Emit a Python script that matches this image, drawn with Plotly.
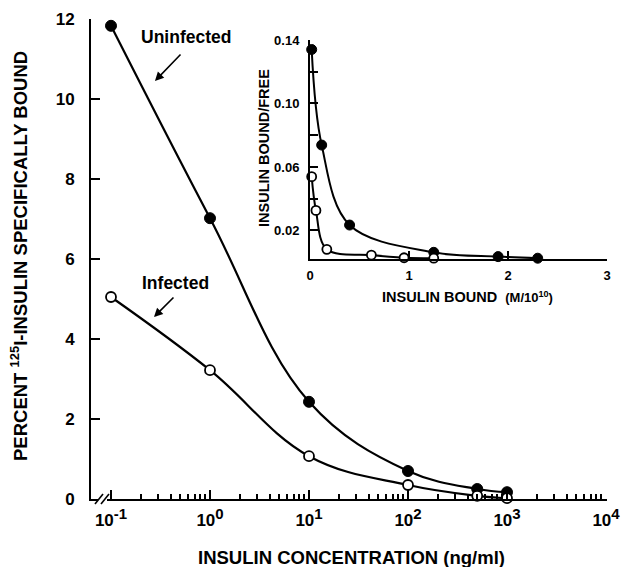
import plotly.graph_objects as go

# ---------------- data ----------------
conc = [0.1, 1, 10, 100, 500, 1000]                 # ng/ml
uninfected_pct = [11.83, 7.02, 2.43, 0.70, 0.25, 0.17]
infected_pct = [5.05, 3.22, 1.07, 0.35, 0.08, 0.02]

# Scatchard inset
unf_bound = [0.017, 0.118, 0.40, 1.25, 1.90, 2.30]
unf_bf = [0.134, 0.0738, 0.0234, 0.0062, 0.0035, 0.0025]
inf_bound = [0.017, 0.06, 0.17, 0.62, 0.95, 1.25]
inf_bf = [0.0539, 0.0326, 0.0081, 0.0045, 0.0028, 0.0025]

x_tickvals = [0.1, 1, 10, 100, 1000, 10000]
x_exponents = ["-1", "0", "1", "2", "3", "4"]
y_tickvals = [0, 2, 4, 6, 8, 10, 12]
inset_x_ticks = [0, 1, 2, 3]
inset_y_labels = [0.02, 0.06, 0.10, 0.14]
inset_y_labeltext = ["0.02", "0.06", "0.10", "0.14"]

FONT = "Liberation Sans, Arial, sans-serif"
BLK = "black"

x_ticktext = ["10<sup><span style='font-size:15px'>%s</span></sup>" % e for e in x_exponents]


def f(size):
    return dict(size=size, family=FONT, color=BLK, weight="bold")


minor_vals = [m * 10 ** e for e in range(-1, 4) for m in range(2, 10)]

fig = go.Figure()

line_style = dict(color=BLK, width=2.2, shape="spline", smoothing=1.1)
fig.add_trace(go.Scatter(x=conc, y=uninfected_pct, mode="lines+markers",
                         line=line_style,
                         marker=dict(size=11, color=BLK, line=dict(color=BLK, width=1)),
                         cliponaxis=False, showlegend=False))
fig.add_trace(go.Scatter(x=conc, y=infected_pct, mode="lines+markers",
                         line=line_style,
                         marker=dict(size=10, color="white", line=dict(color=BLK, width=1.8)),
                         cliponaxis=False, showlegend=False))

# inset
fig.add_trace(go.Scatter(x=unf_bound, y=unf_bf, xaxis="x2", yaxis="y2",
                         mode="lines+markers",
                         line=dict(color=BLK, width=2, shape="spline", smoothing=1.0),
                         marker=dict(size=10, color=BLK, line=dict(color=BLK, width=1)),
                         cliponaxis=False, showlegend=False))
fig.add_trace(go.Scatter(x=inf_bound, y=inf_bf, xaxis="x2", yaxis="y2",
                         mode="lines+markers",
                         line=dict(color=BLK, width=2, shape="spline", smoothing=1.0),
                         marker=dict(size=9, color="white", line=dict(color=BLK, width=1.8)),
                         cliponaxis=False, showlegend=False))

# The page body has an 8px margin, so the figure is drawn 8px right/down.
OFF = 8
W, H = 617, 559
L, R, T, B = 83, 18, 11, 68
pw, ph = W - L - R, H - T - B


def px(xp):
    """page x pixel -> paper fraction"""
    return (xp - OFF - L) / pw


def py(yp):
    """page y pixel -> paper fraction"""
    return (H - B - (yp - OFF)) / ph


fig.update_layout(
    width=W, height=H,
    margin=dict(l=L, r=R, t=T, b=B, autoexpand=False),
    paper_bgcolor="white", plot_bgcolor="white",
    font=dict(family=FONT, color=BLK),
    xaxis=dict(type="log", range=[-1.202, 4.01], domain=[0, 1], automargin=False,
               showline=True, linecolor=BLK, linewidth=2,
               showgrid=False, zeroline=False,
               tickmode="array", tickvals=x_tickvals, ticktext=x_ticktext,
               ticks="inside", ticklen=9, tickwidth=1.5, tickcolor=BLK,
               tickfont=f(17), ticklabelstandoff=5,
               minor=dict(ticks="inside", ticklen=5, tickwidth=1.5, tickcolor=BLK,
                          tickmode="array", tickvals=minor_vals, showgrid=False)),
    yaxis=dict(range=[0, 12], domain=[0, 1], automargin=False,
               showline=True, linecolor=BLK, linewidth=2,
               showgrid=False, zeroline=False,
               tickmode="array", tickvals=y_tickvals,
               ticks="inside", ticklen=9, tickwidth=1.5, tickcolor=BLK,
               tickfont=f(17), ticklabelstandoff=11),
    xaxis2=dict(range=[0, 3], domain=[px(310), 1.0], anchor="y2", automargin=False,
                showline=True, linecolor=BLK, linewidth=2,
                showgrid=False, zeroline=False,
                tickmode="array", tickvals=inset_x_ticks,
                ticks="inside", ticklen=8, tickwidth=1.5, tickcolor=BLK,
                tickfont=f(13), ticklabelstandoff=3),
    yaxis2=dict(range=[0.002, 0.14], domain=[py(259), py(40)], anchor="x2", automargin=False,
                showline=True, linecolor=BLK, linewidth=2,
                showgrid=False, zeroline=False,
                tickmode="array", tickvals=inset_y_labels, ticktext=inset_y_labeltext,
                ticks="inside", ticklen=8, tickwidth=1.5, tickcolor=BLK,
                tickfont=f(13), ticklabelstandoff=6,
                minor=dict(ticks="inside", ticklen=8, tickwidth=1.5, tickcolor=BLK,
                           tickmode="array", tickvals=[0.04, 0.08, 0.12], showgrid=False)),
)

C = dict(xref="paper", yref="paper", xanchor="center", yanchor="middle", showarrow=False)
annotations = [
    # main axis titles
    dict(text="PERCENT <sup>125</sup>I-INSULIN SPECIFICALLY BOUND",
         x=px(19), y=py(256), textangle=-90, font=f(18.5), **C),
    dict(text="INSULIN CONCENTRATION (ng/ml)",
         x=px(351), y=py(557), font=f(18.5), **C),
    # inset titles
    dict(text="INSULIN BOUND/FREE",
         x=px(264), y=py(148), textangle=-90, font=f(14.5), **C),
    dict(text="INSULIN BOUND  <span style='font-size:13px'>(M/10<sup>10</sup>)</span>",
         x=px(467), y=py(297), font=f(14.5), **C),
    # series labels
    dict(text="Uninfected", x=px(186), y=py(37), font=f(17.5), **C),
    dict(text="Infected", x=px(175), y=py(283), font=f(17.5), **C),
    # arrows
    dict(text="", x=-0.556, y=10.45, xref="x", yref="y", ax=27, ay=-28,
         showarrow=True, arrowhead=2, arrowsize=1.1, arrowwidth=1.6, arrowcolor=BLK),
    dict(text="", x=-0.566, y=4.55, xref="x", yref="y", ax=21, ay=-21,
         showarrow=True, arrowhead=2, arrowsize=1.1, arrowwidth=1.6, arrowcolor=BLK),
]
fig.update_layout(annotations=annotations)

# axis break marks on main x axis
shapes = [
    dict(type="line", xref="paper", yref="paper", x0=px(98), x1=px(107),
         y0=py(499), y1=py(499), line=dict(color="white", width=4)),
    dict(type="line", xref="paper", yref="paper", x0=px(95), x1=px(103),
         y0=py(504), y1=py(494), line=dict(color=BLK, width=1.6)),
    dict(type="line", xref="paper", yref="paper", x0=px(101), x1=px(109),
         y0=py(504), y1=py(494), line=dict(color=BLK, width=1.6)),
]
fig.update_layout(shapes=shapes)

fig.write_html("out.html")
